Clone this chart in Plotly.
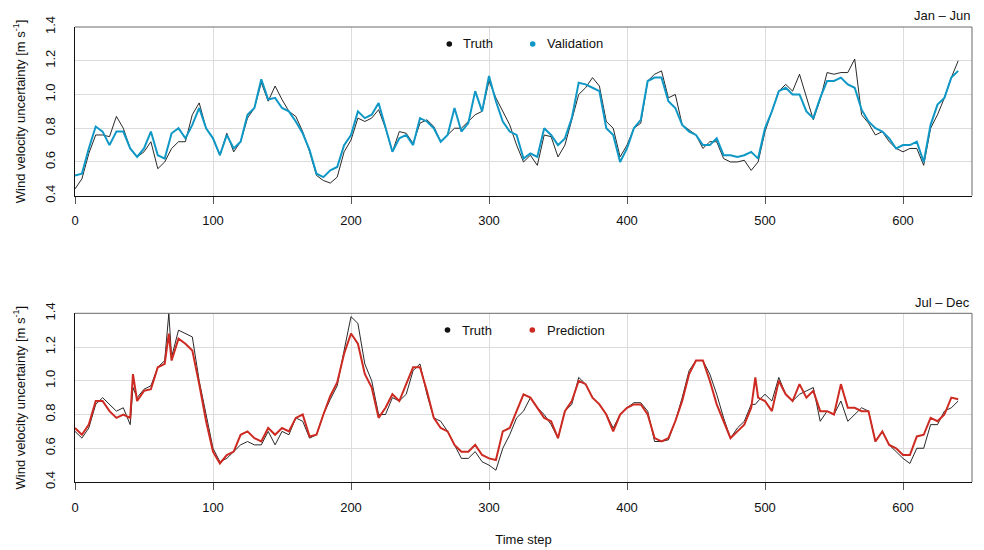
import plotly.graph_objects as go

# ---------------- data ----------------
top_steps = [0, 5, 10, 15, 20, 25, 30, 35, 40, 45, 50, 55, 60, 65, 70, 75, 80, 85, 90, 95,
             100, 105, 110, 115, 120, 125, 130, 135, 140, 145, 150, 155, 160, 165, 170, 175, 180, 185, 190, 195,
             200, 205, 210, 215, 220, 225, 230, 235, 240, 245, 250, 255, 260, 265, 270, 275, 280, 285, 290, 295,
             300, 305, 310, 315, 320, 325, 330, 335, 340, 345, 350, 355, 360, 365, 370, 375, 380, 385, 390, 395,
             400, 405, 410, 415, 420, 425, 430, 435, 440, 445, 450, 455, 460, 465, 470, 475, 480, 485, 490, 495,
             500, 505, 510, 515, 520, 525, 530, 535, 540, 545, 550, 555, 560, 565, 570, 575, 580, 585, 590, 595,
             600, 605, 610, 615, 620, 625, 630, 635, 640]

truth_jan_jun = [0.44, 0.50, 0.65, 0.76, 0.76, 0.75, 0.87, 0.80, 0.68, 0.63, 0.66, 0.72, 0.56, 0.60, 0.68, 0.72, 0.72, 0.88, 0.95, 0.80,
                 0.74, 0.64, 0.77, 0.66, 0.72, 0.86, 0.92, 1.07, 0.96, 1.05, 0.97, 0.90, 0.87, 0.78, 0.66, 0.52, 0.49, 0.475, 0.51, 0.66,
                 0.73, 0.86, 0.84, 0.86, 0.91, 0.80, 0.66, 0.78, 0.77, 0.71, 0.83, 0.85, 0.81, 0.72, 0.76, 0.80, 0.80, 0.84, 0.88, 0.90,
                 1.08, 0.98, 0.90, 0.82, 0.70, 0.60, 0.64, 0.58, 0.76, 0.75, 0.63, 0.70, 0.85, 1.00, 1.04, 1.10, 1.05, 0.84, 0.80, 0.63,
                 0.70, 0.80, 0.83, 1.08, 1.12, 1.14, 0.98, 1.00, 0.82, 0.79, 0.76, 0.68, 0.72, 0.72, 0.62, 0.60, 0.60, 0.61, 0.55, 0.60,
                 0.78, 0.90, 1.02, 1.06, 1.02, 1.12, 0.98, 0.85, 0.97, 1.13, 1.12, 1.13, 1.13, 1.21, 0.88, 0.83, 0.76, 0.78, 0.72, 0.68,
                 0.66, 0.68, 0.68, 0.58, 0.80, 0.88, 0.98, 1.10, 1.20]

validation_jan_jun = [0.52, 0.53, 0.68, 0.81, 0.78, 0.70, 0.78, 0.78, 0.68, 0.63, 0.68, 0.78, 0.64, 0.62, 0.77, 0.80, 0.74, 0.82, 0.92, 0.80,
                      0.74, 0.64, 0.76, 0.68, 0.72, 0.88, 0.92, 1.09, 0.97, 0.98, 0.92, 0.90, 0.84, 0.77, 0.67, 0.53, 0.51, 0.55, 0.57, 0.70,
                      0.76, 0.90, 0.86, 0.88, 0.95, 0.80, 0.66, 0.74, 0.76, 0.70, 0.86, 0.84, 0.80, 0.72, 0.76, 0.92, 0.78, 0.83, 1.02, 0.90,
                      1.11, 0.96, 0.84, 0.78, 0.76, 0.62, 0.65, 0.63, 0.80, 0.76, 0.70, 0.74, 0.86, 1.07, 1.06, 1.04, 1.02, 0.80, 0.76, 0.60,
                      0.68, 0.80, 0.85, 1.08, 1.10, 1.10, 0.96, 0.92, 0.82, 0.78, 0.76, 0.70, 0.70, 0.74, 0.64, 0.64, 0.63, 0.64, 0.66, 0.62,
                      0.80, 0.90, 1.02, 1.04, 1.00, 1.00, 0.90, 0.86, 0.98, 1.08, 1.08, 1.10, 1.06, 1.04, 0.91, 0.84, 0.80, 0.78, 0.74, 0.68,
                      0.70, 0.70, 0.72, 0.60, 0.82, 0.94, 0.98, 1.10, 1.14]

bottom_steps = [0, 5, 10, 15, 20, 25, 30, 35, 40, 42, 45, 50, 55, 60, 65, 68, 70, 75, 80, 85, 90, 95,
                100, 105, 110, 115, 120, 125, 130, 135, 140, 145, 150, 155, 160, 165, 170, 175, 180, 185, 190, 195,
                200, 205, 210, 215, 220, 225, 230, 235, 240, 245, 250, 255, 260, 265, 270, 275, 280, 285, 290, 295,
                300, 305, 310, 315, 320, 325, 330, 335, 340, 345, 350, 355, 360, 365, 370, 375, 380, 385, 390, 395,
                400, 405, 410, 415, 420, 425, 430, 435, 440, 445, 450, 455, 460, 465, 470, 475, 480, 485, 490, 493, 495,
                500, 505, 510, 515, 520, 525, 530, 535, 540, 545, 550, 555, 560, 565, 570, 575, 580, 585, 590, 595,
                600, 605, 610, 615, 620, 625, 630, 635, 640]

truth_jul_dec = [0.70, 0.66, 0.72, 0.86, 0.90, 0.86, 0.82, 0.84, 0.74, 0.96, 0.90, 0.95, 0.97, 1.08, 1.12, 1.40, 1.14, 1.30, 1.28, 1.26, 1.00, 0.80,
                 0.60, 0.52, 0.54, 0.58, 0.62, 0.64, 0.62, 0.62, 0.70, 0.62, 0.70, 0.68, 0.78, 0.76, 0.66, 0.68, 0.80, 0.89, 0.97, 1.18,
                 1.38, 1.34, 1.10, 1.00, 0.80, 0.80, 0.90, 0.88, 0.92, 1.06, 1.10, 0.92, 0.78, 0.76, 0.70, 0.62, 0.54, 0.54, 0.58, 0.52,
                 0.50, 0.47, 0.60, 0.68, 0.78, 0.82, 0.90, 0.84, 0.80, 0.74, 0.66, 0.82, 0.86, 1.02, 0.98, 0.90, 0.86, 0.80, 0.72, 0.80,
                 0.84, 0.87, 0.87, 0.82, 0.64, 0.64, 0.65, 0.76, 0.90, 1.06, 1.12, 1.12, 1.04, 0.92, 0.78, 0.66, 0.72, 0.76, 0.86, 0.86, 0.88,
                 0.92, 0.88, 1.02, 0.92, 0.88, 0.92, 0.94, 0.96, 0.76, 0.82, 0.80, 0.88, 0.76, 0.80, 0.84, 0.82, 0.64, 0.70, 0.62, 0.58,
                 0.54, 0.51, 0.60, 0.60, 0.74, 0.74, 0.82, 0.84, 0.88]

prediction_jul_dec = [0.72, 0.68, 0.74, 0.88, 0.88, 0.82, 0.78, 0.80, 0.78, 1.04, 0.88, 0.94, 0.95, 1.08, 1.10, 1.28, 1.12, 1.25, 1.22, 1.18, 0.98, 0.76,
                      0.58, 0.51, 0.56, 0.58, 0.68, 0.70, 0.66, 0.64, 0.72, 0.68, 0.72, 0.70, 0.78, 0.80, 0.67, 0.68, 0.80, 0.91, 0.99, 1.16,
                      1.28, 1.22, 1.04, 0.96, 0.78, 0.84, 0.92, 0.88, 0.98, 1.08, 1.08, 0.94, 0.78, 0.72, 0.70, 0.62, 0.58, 0.58, 0.62, 0.56,
                      0.54, 0.53, 0.70, 0.72, 0.82, 0.92, 0.90, 0.84, 0.78, 0.76, 0.66, 0.82, 0.88, 1.00, 0.98, 0.90, 0.86, 0.80, 0.70, 0.80,
                      0.84, 0.86, 0.86, 0.80, 0.66, 0.64, 0.66, 0.76, 0.88, 1.04, 1.12, 1.12, 1.00, 0.86, 0.76, 0.66, 0.70, 0.74, 0.84, 1.02, 0.90,
                      0.88, 0.82, 1.00, 0.92, 0.88, 0.98, 0.90, 0.94, 0.82, 0.82, 0.80, 0.98, 0.84, 0.84, 0.82, 0.82, 0.64, 0.70, 0.62, 0.60,
                      0.56, 0.56, 0.67, 0.68, 0.78, 0.76, 0.80, 0.90, 0.89]

x_ticks = [0, 100, 200, 300, 400, 500, 600]
y_ticks = [0.4, 0.6, 0.8, 1.0, 1.2, 1.4]
y_tick_text = ["0.4", "0.6", "0.8", "1.0", "1.2", "1.4"]
panel_labels = ["Jan \u2013 Jun", "Jul \u2013 Dec"]

assert len(top_steps) == len(truth_jan_jun) == len(validation_jan_jun)
assert len(bottom_steps) == len(truth_jul_dec) == len(prediction_jul_dec)

# ---------------- style ----------------
FONT = "Liberation Sans, Arial, Helvetica, sans-serif"
BLACK = "#111111"
BLUE = "#0f98c6"
RED = "#cd2a22"
GRID = "#dcdcdc"
FRAME = "#6a6a6a"

W, H = 984, 550
ML, MR, MT, MB = 75, 12, 27, 68
PW, PH = W - ML - MR, H - MT - MB
panel_h = 168.7


def px_x(px):
    return (px - ML) / PW


def px_y(py):
    return (H - MB - py) / PH


fig = go.Figure()

fig.add_trace(go.Scatter(x=top_steps, y=truth_jan_jun, mode="lines", name="Truth",
                         line=dict(color=BLACK, width=0.9), xaxis="x", yaxis="y", showlegend=False))
fig.add_trace(go.Scatter(x=top_steps, y=validation_jan_jun, mode="lines", name="Validation",
                         line=dict(color=BLUE, width=2), xaxis="x", yaxis="y", showlegend=False))
fig.add_trace(go.Scatter(x=bottom_steps, y=truth_jul_dec, mode="lines", name="Truth",
                         line=dict(color=BLACK, width=0.9), xaxis="x2", yaxis="y2", showlegend=False))
fig.add_trace(go.Scatter(x=bottom_steps, y=prediction_jul_dec, mode="lines", name="Prediction",
                         line=dict(color=RED, width=2), xaxis="x2", yaxis="y2", showlegend=False))

xcommon = dict(range=[0, 650], tickvals=x_ticks, showgrid=True, gridcolor=GRID, gridwidth=1,
               showline=True, linecolor=BLACK, linewidth=1, ticks="outside", ticklen=7,
               tickcolor="#555555", tickwidth=1, zeroline=False, automargin=False,
               tickfont=dict(family=FONT, size=13, color=BLACK), ticklabelstandoff=6)
ycommon = dict(range=[0.4, 1.4], tickvals=y_ticks, ticktext=y_tick_text, tickangle=-90,
               showgrid=True, gridcolor=GRID, gridwidth=1, showline=True, linecolor=BLACK,
               linewidth=1, ticks="", zeroline=False, automargin=False,
               tickfont=dict(family=FONT, size=13, color=BLACK), ticklabelstandoff=14,
               title=dict(text="Wind velocity uncertainty [m s<sup>-1</sup>]",
                          font=dict(family=FONT, size=13, color=BLACK), standoff=14))

top_dom = [1 - panel_h / PH, 1]
bot_dom = [0, panel_h / PH]

fig.update_layout(
    width=W, height=H,
    margin=dict(l=ML, r=MR, t=MT, b=MB),
    paper_bgcolor="white", plot_bgcolor="white",
    font=dict(family=FONT, size=13, color=BLACK),
    showlegend=False,
    xaxis=dict(**xcommon, anchor="y", domain=[0, 1]),
    yaxis=dict(**ycommon, anchor="x", domain=top_dom),
    xaxis2=dict(**xcommon, anchor="y2", domain=[0, 1],
                title=dict(text="Time step", font=dict(family=FONT, size=13, color=BLACK), standoff=21)),
    yaxis2=dict(**ycommon, anchor="x2", domain=bot_dom),
)

# grey top/right frame lines
for xr, yr in (("x domain", "y domain"), ("x2 domain", "y2 domain")):
    fig.add_shape(type="line", xref=xr, yref=yr, x0=0, x1=1, y0=1, y1=1,
                  line=dict(color=FRAME, width=1), layer="above")
    fig.add_shape(type="line", xref=xr, yref=yr, x0=1, x1=1, y0=0, y1=1,
                  line=dict(color=FRAME, width=1), layer="above")

# in-plot legends (dot + label)
legend_items = [
    (449.3, 44, 461.0, "Truth", BLACK),
    (532.7, 44, 544.5, "Validation", BLUE),
    (447.5, 330, 459.5, "Truth", BLACK),
    (532.3, 330, 544.5, "Prediction", RED),
]
for dx, dy, tx, label, col in legend_items:
    fig.add_shape(type="circle", xref="paper", yref="paper",
                  xsizemode="pixel", ysizemode="pixel",
                  xanchor=px_x(dx), yanchor=px_y(dy), x0=-2.8, x1=2.8, y0=-2.8, y1=2.8,
                  fillcolor=col, line=dict(width=0))
    fig.add_annotation(x=px_x(tx), y=px_y(dy), xref="paper", yref="paper", text=label,
                       showarrow=False, xanchor="left", yanchor="middle",
                       font=dict(family=FONT, size=13, color=BLACK))

# panel labels
fig.add_annotation(x=1, y=px_y(15.5), xref="paper", yref="paper", text=panel_labels[0],
                   showarrow=False, xanchor="right", yanchor="middle",
                   font=dict(family=FONT, size=13, color=BLACK))
fig.add_annotation(x=1, y=px_y(302), xref="paper", yref="paper", text=panel_labels[1],
                   showarrow=False, xanchor="right", yanchor="middle",
                   font=dict(family=FONT, size=13, color=BLACK))

fig.write_html("out.html")
